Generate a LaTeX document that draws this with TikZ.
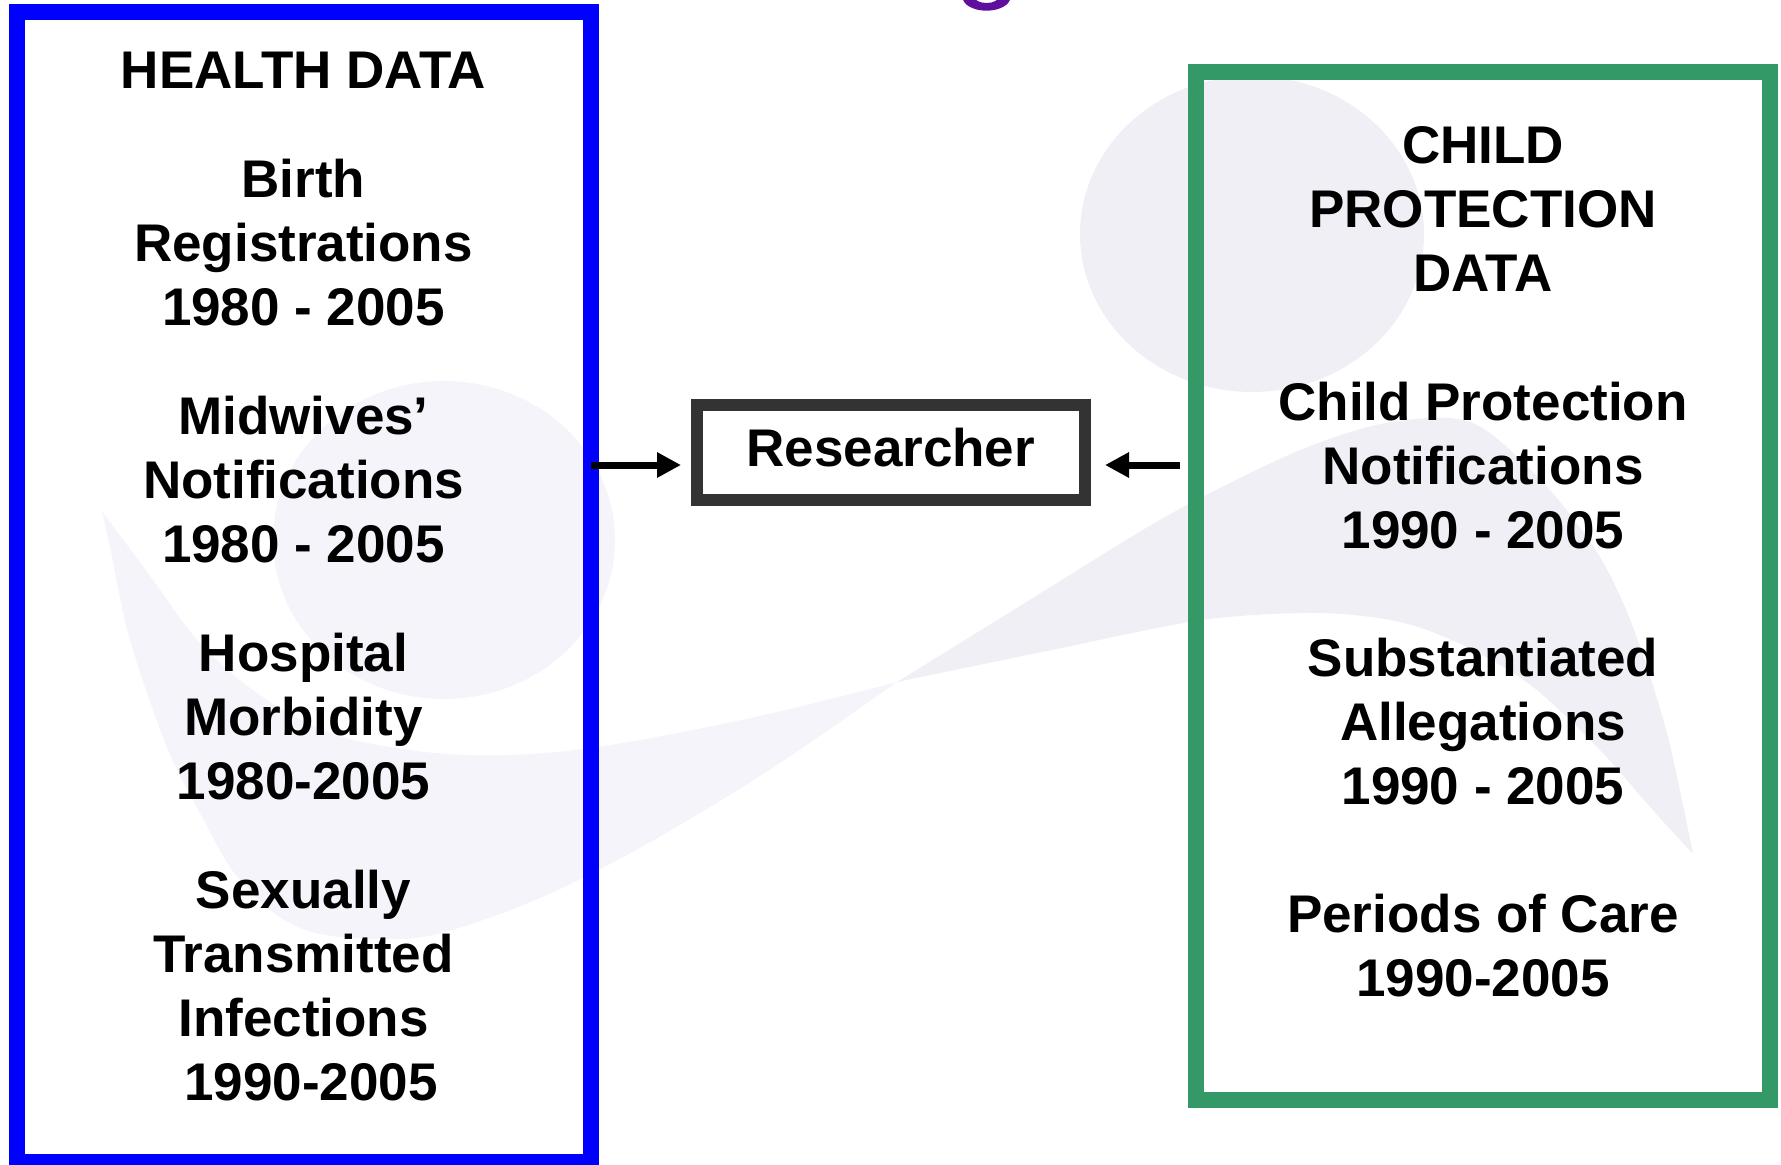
\documentclass[tikz,border=0pt]{standalone}
\usepackage{fontspec}
\setmainfont{Liberation Sans}
\usetikzlibrary{arrows.meta}
\definecolor{wmA}{HTML}{F5F4FA}
\definecolor{wmB}{HTML}{F1EFF6}
\definecolor{hgreen}{HTML}{339966}
\definecolor{hdark}{HTML}{333333}
\definecolor{hpurple}{HTML}{5F0F9B}
\tikzset{
  databox/.style={draw,line width=16pt,outer sep=0pt,inner sep=0pt,anchor=north west},
  label/.style={align=center,inner sep=0pt,font=\fontsize{53}{64}\selectfont\bfseries},
  link/.style={line width=7pt,-{Triangle[length=24pt,width=24pt]}},
}
\begin{document}
\begin{tikzpicture}[x=1pt,y=-1pt]
\useasboundingbox (0,0) rectangle (1781,1165);
\clip (0,0) rectangle (1781,1165);
% watermark
\fill[wmA] (444,540) ellipse [x radius=171,y radius=159];
\fill[wmB] (1252,234) ellipse [x radius=172,y radius=158];
\fill[wmA] plot[smooth,tension=.6] coordinates {(102,511) (153,580) (200,643) (257,693) (323,730) (390,747) (473,755) (583,749) (746,719) (897,682)}
  -- plot[smooth,tension=.6] coordinates {(897,682) (746,785) (583,878) (459,928) (386,939) (300,928) (240,880) (200,813) (167,747) (130,640) (110,547) (102,511)} -- cycle;
\fill[wmB] plot[smooth,tension=.5] coordinates {(897,682) (1015,609) (1136,534) (1202,497) (1300,450) (1380,424) (1450,418) (1490,433) (1550,490) (1600,557) (1633,627) (1667,733) (1693,854)}
  -- plot[smooth,tension=.5] coordinates {(1693,854) (1650,807) (1600,750) (1533,687) (1467,647) (1400,622) (1317,613) (1202,620) (1052,650) (897,682)} -- cycle;
% cropped letter at top edge
\fill[hpurple,even odd rule] (986.5,-3) ellipse [x radius=24,y radius=13.7] (986.5,-3) ellipse [x radius=12,y radius=6];
% boxes
\node[databox,draw=blue,minimum width=574.5pt,minimum height=1150pt] (hb) at (16.5,11.5) {};
\node[databox,draw=hgreen,minimum width=574pt,minimum height=1028pt] (cp) at (1196,72) {};
\node[draw=hdark,line width=12pt,outer sep=0pt,inner sep=0pt,anchor=north west,minimum width=387.5pt,minimum height=95pt] (res) at (697,405) {};
% texts
\node[label] (h0) at (303.5,70) {HEALTH DATA};
\node[label] (h1) at (303.5,243) {Birth\\Registrations\\1980 - 2005};
\node[label] (h2) at (303.5,479.5) {Midwives’\\Notifications\\1980 - 2005};
\node[label] (h3) at (303.5,717) {Hospital\\Morbidity\\1980-2005};
\node[label] (h4) at (303.5,985.5) {Sexually\\Transmitted\\Infections\\\hspace*{.278em}1990-2005};
\node[label] (c0) at (1483,209) {CHILD\\PROTECTION\\DATA};
\node[label] (c1) at (1483,466) {Child Protection\\Notifications\\1990 - 2005};
\node[label] (c2) at (1483,721.8) {Substantiated\\Allegations\\1990 - 2005};
\node[label] (c3) at (1483,945.5) {Periods of Care\\1990-2005};
\node[label] (rt) at (res.center) [yshift=5pt] {Researcher};
% connectors
\coordinate (ay) at (0,465);
\draw[link,shorten >=16pt] (hb.east |- ay) -- (res.west |- ay);
\draw[link,shorten <=16pt,shorten >=20.5pt] (cp.west |- ay) -- (res.east |- ay);
\end{tikzpicture}
\end{document}
